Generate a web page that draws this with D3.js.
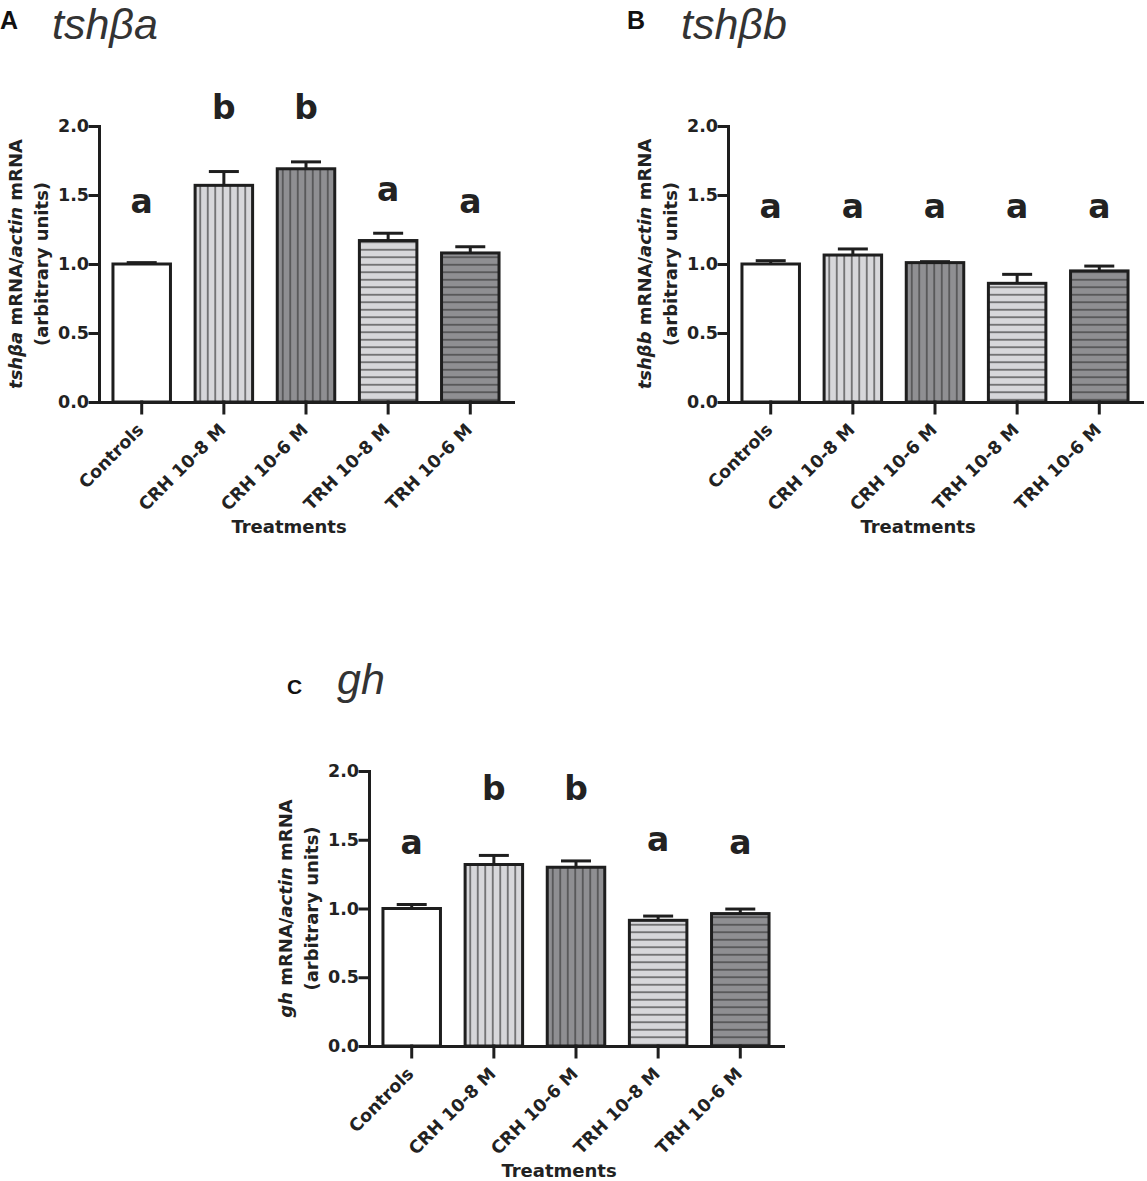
<!DOCTYPE html>
<html>
<head>
<meta charset="utf-8">
<script src="https://cdnjs.cloudflare.com/ajax/libs/d3/7.8.5/d3.min.js"></script>
<style>
body { margin: 0; background: #fff; }
svg text { font-family: "DejaVu Sans", sans-serif; }
</style>
</head>
<body>
<script>
// categorias (eje x) y marcas del eje y
const categories = ["Controls", "CRH 10-8 M", "CRH 10-6 M", "TRH 10-8 M", "TRH 10-6 M"];
const yTicks = [0, 0.5, 1.0, 1.5, 2.0];

// A: tshβa
const tshbaMean = [1.00, 1.57, 1.69, 1.17, 1.08];
const tshbaErr = [0.01, 0.10, 0.05, 0.053, 0.045];
const tshbaLetters = ["a", "b", "b", "a", "a"];
const tshbaLetterAt = [1.37, 2.05, 2.05, 1.46, 1.37];

// B: tshβb
const tshbbMean = [1.00, 1.065, 1.01, 0.86, 0.95];
const tshbbErr = [0.024, 0.044, 0.007, 0.065, 0.035];
const tshbbLetters = ["a", "a", "a", "a", "a"];
const tshbbLetterAt = [1.335, 1.335, 1.335, 1.335, 1.335];

// C: gh
const ghMean = [1.00, 1.32, 1.30, 0.914, 0.963];
const ghErr = [0.029, 0.066, 0.046, 0.031, 0.033];
const ghLetters = ["a", "b", "b", "a", "a"];
const ghLetterAt = [1.40, 1.79, 1.79, 1.42, 1.40];

const W = 1147, H = 1181;
const ink = "#1e1e1e";

const svg = d3.select("body").append("svg")
    .attr("width", W)
    .attr("height", H);

// patrones de relleno (rayas verticales / horizontales)
const defs = svg.append("defs");
const fills = {light: "#d7d7da", dark: "#8f8f92"};
function makePattern(id, fill, vertical) {
    const s = 7.5;
    const p = defs.append("pattern")
        .attr("id", id)
        .attr("patternUnits", "userSpaceOnUse")
        .attr("width", s)
        .attr("height", s);
    p.append("rect").attr("width", s).attr("height", s).attr("fill", fill);
    if (vertical) {
        p.append("line").attr("x1", s / 2).attr("x2", s / 2).attr("y1", 0).attr("y2", s)
            .attr("stroke", "#3a3a3a").attr("stroke-width", 1.2);
    } else {
        p.append("line").attr("y1", s / 2).attr("y2", s / 2).attr("x1", 0).attr("x2", s)
            .attr("stroke", "#3a3a3a").attr("stroke-width", 1.2);
    }
}
makePattern("vLight", fills.light, true);
makePattern("vDark", fills.dark, true);
makePattern("hLight", fills.light, false);
makePattern("hDark", fills.dark, false);
const barFill = ["#ffffff", "url(#vLight)", "url(#vDark)", "url(#hLight)", "url(#hDark)"];

function drawPanel(p, means, errs, letters, letterAt) {
    const h = p.h;
    const g = svg.append("g").attr("transform", `translate(${p.x0},${p.y0 - h})`);

    const x = d3.scaleBand()
        .domain(categories)
        .range([0, 414])
        .paddingInner(0.3)
        .paddingOuter(0.17);

    const y = d3.scaleLinear()
        .domain([0, 2])
        .range([h, 0]);

    const rows = categories.map((c, i) => ({c: c, m: means[i], e: errs[i], l: letters[i], la: letterAt[i], i: i}));

    // barras
    g.selectAll("rect.bar")
        .data(rows)
        .enter()
        .append("rect")
        .attr("class", "bar")
        .attr("x", d => x(d.c))
        .attr("y", d => y(d.m))
        .attr("width", x.bandwidth())
        .attr("height", d => h - y(d.m))
        .attr("fill", d => barFill[d.i])
        .attr("stroke", ink)
        .attr("stroke-width", 3);

    // barras de error (solo hacia arriba)
    const cx = d => x(d.c) + x.bandwidth() / 2;
    g.selectAll("line.err")
        .data(rows)
        .enter()
        .append("line")
        .attr("class", "err")
        .attr("x1", cx).attr("x2", cx)
        .attr("y1", d => y(d.m)).attr("y2", d => y(d.m + d.e))
        .attr("stroke", ink).attr("stroke-width", 3);
    g.selectAll("line.cap")
        .data(rows)
        .enter()
        .append("line")
        .attr("class", "cap")
        .attr("x1", d => cx(d) - 15).attr("x2", d => cx(d) + 15)
        .attr("y1", d => y(d.m + d.e)).attr("y2", d => y(d.m + d.e))
        .attr("stroke", ink).attr("stroke-width", 3);

    // letras de significancia
    g.selectAll("text.sig")
        .data(rows)
        .enter()
        .append("text")
        .attr("class", "sig")
        .attr("x", cx)
        .attr("y", d => y(d.la))
        .attr("text-anchor", "middle")
        .style("font-size", "33px")
        .style("font-weight", "bold")
        .attr("fill", "#222")
        .text(d => d.l);

    // eje Y
    const yAxis = g.append("g")
        .call(d3.axisLeft(y).tickValues(yTicks).tickFormat(d3.format(".1f")).tickSize(9).tickSizeOuter(0).tickPadding(1));
    yAxis.selectAll("path, line").attr("stroke", ink).attr("stroke-width", 3).attr("stroke-linecap", "square");
    yAxis.selectAll("text")
        .style("font-family", "DejaVu Sans, sans-serif")
        .style("font-size", "17.5px")
        .style("font-weight", "bold")
        .attr("fill", "#222");

    // eje X
    const xAxis = g.append("g")
        .attr("transform", `translate(0,${h})`)
        .call(d3.axisBottom(x).tickSize(11).tickSizeOuter(0));
    xAxis.selectAll("path, line").attr("stroke", ink).attr("stroke-width", 3).attr("stroke-linecap", "square");
    xAxis.selectAll("text")
        .attr("x", 0).attr("y", 0).attr("dy", null)
        .attr("text-anchor", "end")
        .attr("transform", "translate(3,29) rotate(-45)")
        .style("font-family", "DejaVu Sans, sans-serif")
        .style("font-size", "17.5px")
        .style("font-weight", "bold")
        .attr("fill", "#222");

    // titulo eje X
    g.append("text")
        .attr("x", 190)
        .attr("y", h + 131)
        .attr("text-anchor", "middle")
        .style("font-size", "18px")
        .style("font-weight", "bold")
        .attr("fill", "#222")
        .text("Treatments");

    // titulo eje Y (dos lineas)
    const yt = g.append("g").attr("transform", `translate(-77,${h / 2}) rotate(-90)`);
    const t1 = yt.append("text")
        .attr("text-anchor", "middle")
        .style("font-size", "18px")
        .style("font-weight", "bold")
        .attr("fill", "#222");
    t1.append("tspan").style("font-style", "italic").text(p.gene);
    t1.append("tspan").text(" mRNA/");
    t1.append("tspan").style("font-style", "italic").text("actin");
    t1.append("tspan").text(" mRNA");
    yt.append("text")
        .attr("y", 26)
        .attr("text-anchor", "middle")
        .style("font-size", "18px")
        .style("font-weight", "bold")
        .attr("fill", "#222")
        .text("(arbitrary units)");

    // letra del panel y titulo
    svg.append("text")
        .attr("x", p.lx).attr("y", p.ly)
        .style("font-family", "Liberation Sans, Arial, sans-serif")
        .style("font-size", p.ls + "px")
        .style("font-weight", "bold")
        .attr("fill", "#111")
        .text(p.letter);
    svg.append("text")
        .attr("x", p.tx).attr("y", p.ty)
        .style("font-family", "Liberation Sans, Arial, sans-serif")
        .style("font-size", "43px")
        .style("font-style", "italic")
        .attr("fill", "#333")
        .text(p.gene);
}

drawPanel({x0: 99, y0: 402, h: 276, gene: "tshβa", letter: "A", lx: 0, ly: 29, ls: 25, tx: 52, ty: 39},
    tshbaMean, tshbaErr, tshbaLetters, tshbaLetterAt);
drawPanel({x0: 728, y0: 402, h: 276, gene: "tshβb", letter: "B", lx: 627, ly: 29, ls: 25, tx: 681, ty: 39},
    tshbbMean, tshbbErr, tshbbLetters, tshbbLetterAt);
drawPanel({x0: 369, y0: 1046, h: 275, gene: "gh", letter: "C", lx: 287, ly: 694, ls: 21, tx: 337, ty: 694},
    ghMean, ghErr, ghLetters, ghLetterAt);
</script>
</body>
</html>
